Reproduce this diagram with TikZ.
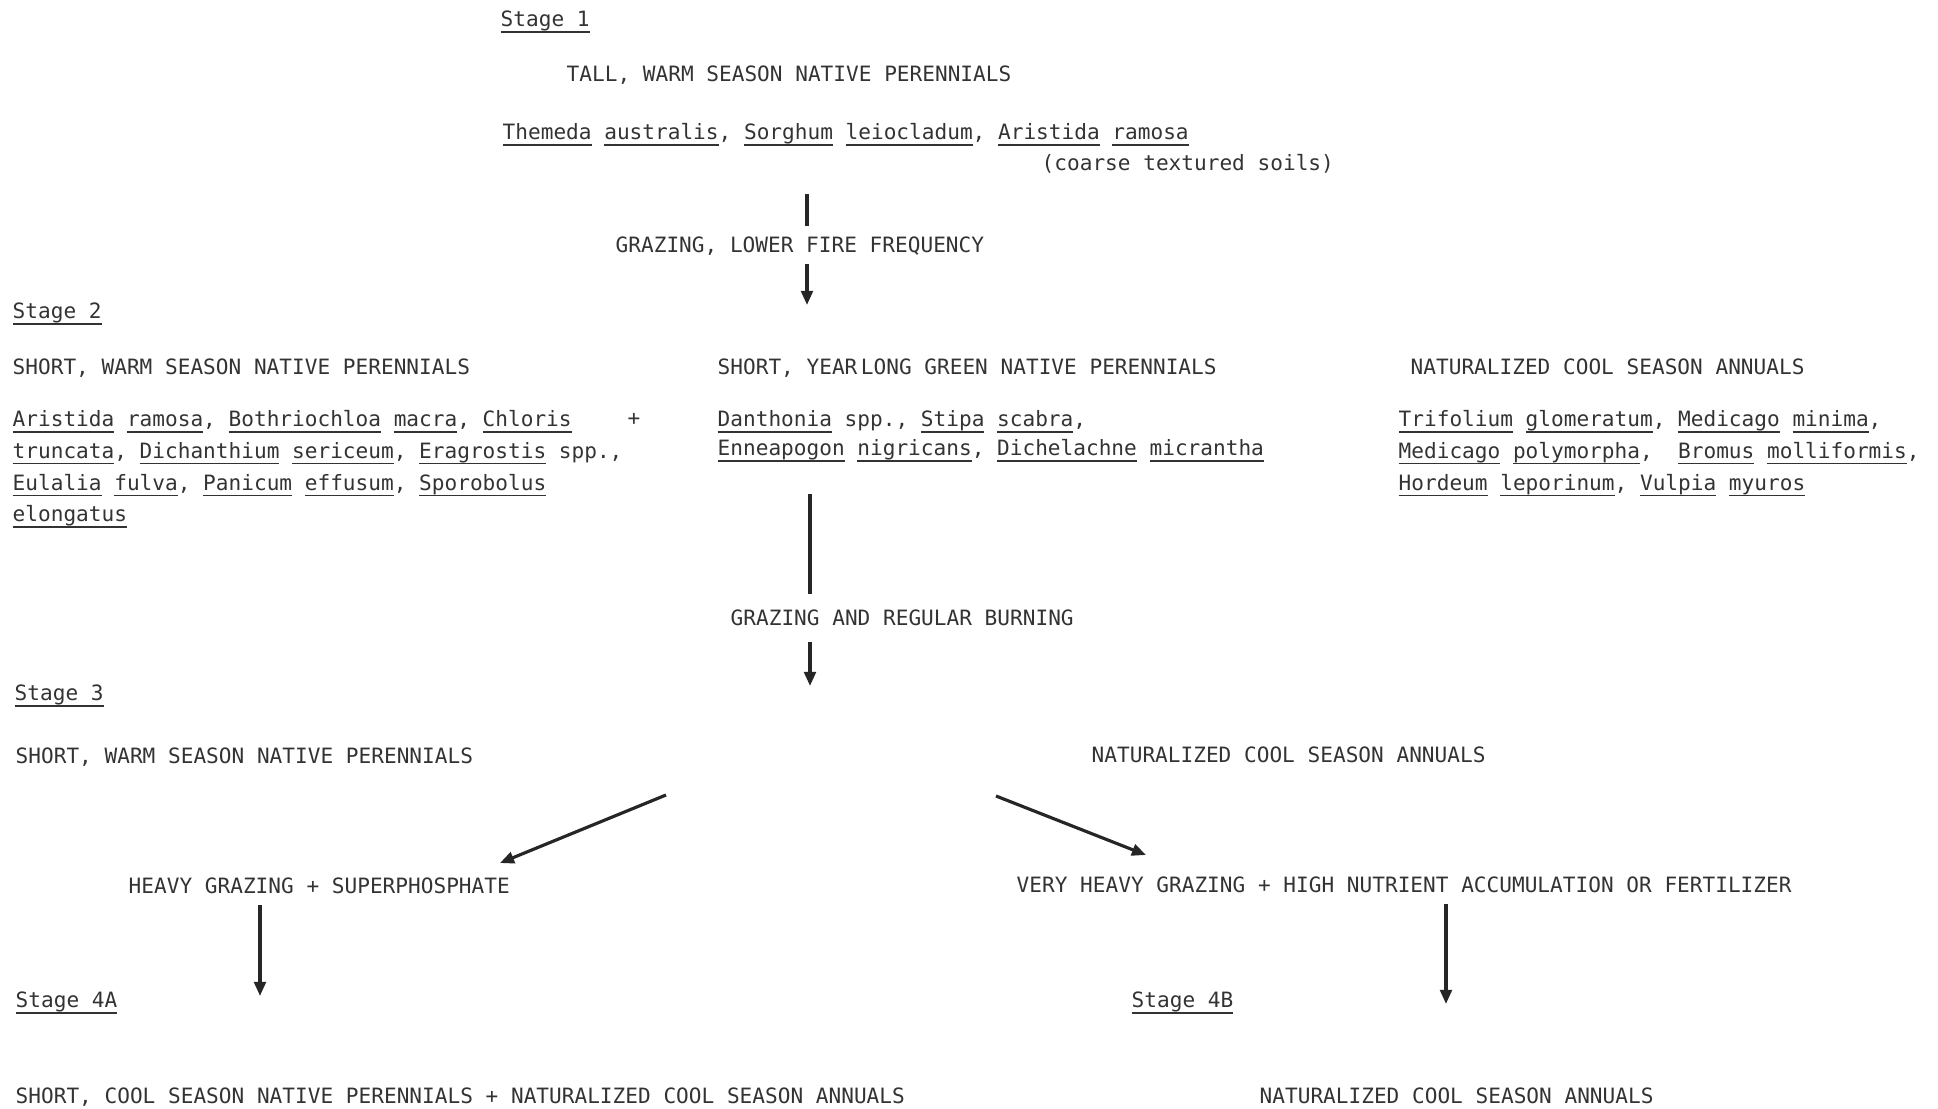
\documentclass[tikz,border=0pt]{standalone}
\usepackage{fontspec}
\setmonofont{DejaVu Sans Mono}
\usepackage{tikz}
\usetikzlibrary{positioning, arrows.meta}
\frenchspacing
% typewriter underline, same level under every word
\newcommand{\taxon}[1]{\setbox0=\hbox{#1}\rlap{\rule[-1.7pt]{\wd0}{0.4pt}}\box0\relax}

\begin{document}
\begin{tikzpicture}[
  x=0.01cm, y=-0.01cm,
  txt/.style={font=\ttfamily\fontsize{6}{9}\selectfont,text=black!80,inner sep=0pt,text height=4.4pt,text depth=0pt,anchor=west},
  species/.style={font=\ttfamily\fontsize{6}{9}\selectfont,text=black!80,inner sep=0pt,align=left,anchor=north west},
  cond/.style={txt,inner ysep=3pt},
  link/.style={line width=0.9pt,black!85},
  arrow/.style={link,-{Triangle[length=4pt,width=3.3pt]}},
]
\useasboundingbox (0,0) rectangle (1938,1109);

% stage 1
\node[txt] (st1) at (500,19) {\taxon{Stage 1}};
\node[txt] (tall) at (566,74) {TALL, WARM SEASON NATIVE PERENNIALS};
\node[txt] (themeda) at (502,132) {\taxon{Themeda} \taxon{australis}, \taxon{Sorghum} \taxon{leiocladum}, \taxon{Aristida} \taxon{ramosa}};
\node[txt] (coarse) at (1041,163) {(coarse textured soils)};

\coordinate (a1top) at (807,194);
\coordinate (a1end) at (807,305);
\node[cond] (g1) at (615,245) {GRAZING, LOWER FIRE FREQUENCY};
\draw[link] (a1top) -- (a1top |- g1.north);
\draw[arrow] (a1top |- g1.south) -- (a1end);

% stage 2
\node[txt] (st2) at (12,311) {\taxon{Stage 2}};
\node[txt] (warm2) at (12,367) {SHORT, WARM SEASON NATIVE PERENNIALS};
\node[txt] (green2) at (717,367) {SHORT, YEAR\kern1pt LONG GREEN NATIVE PERENNIALS};
\node[txt] (cool2) at (1410,367) {NATURALIZED COOL SEASON ANNUALS};

\node[species] (spwarm) at (12,410) {\taxon{Aristida} \taxon{ramosa}, \taxon{Bothriochloa} \taxon{macra}, \taxon{Chloris}\\
  \taxon{truncata}, \taxon{Dichanthium} \taxon{sericeum}, \taxon{Eragrostis} spp.,\\
  \taxon{Eulalia} \taxon{fulva}, \taxon{Panicum} \taxon{effusum}, \taxon{Sporobolus}\\
  \taxon{elongatus}};
\node[txt,anchor=center] (plus) at (634,418) {+};
\node[species,font=\ttfamily\fontsize{6}{8.2}\selectfont] (spgreen) at (717,410) {\taxon{Danthonia} spp., \taxon{Stipa} \taxon{scabra},\\
  \taxon{Enneapogon} \taxon{nigricans}, \taxon{Dichelachne} \taxon{micrantha}};
\node[species] (spcool) at (1398,410) {\taxon{Trifolium} \taxon{glomeratum}, \taxon{Medicago} \taxon{minima},\\
  \taxon{Medicago} \taxon{polymorpha},~ \taxon{Bromus} \taxon{molliformis},\\
  \taxon{Hordeum} \taxon{leporinum}, \taxon{Vulpia} \taxon{myuros}};

\coordinate (a2top) at (810,494);
\coordinate (a2end) at (810,686);
\node[cond,inner ysep=4.5pt] (g2) at (730,618) {GRAZING AND REGULAR BURNING};
\draw[link] (a2top) -- (a2top |- g2.north);
\draw[arrow] (a2top |- g2.south) -- (a2end);

% stage 3
\node[txt] (st3) at (14,693) {\taxon{Stage 3}};
\node[txt] (warm3) at (15,756) {SHORT, WARM SEASON NATIVE PERENNIALS};
\node[txt] (cool3) at (1091,755) {NATURALIZED COOL SEASON ANNUALS};

\coordinate (forkL) at (666,795);
\coordinate (forkR) at (996,796);
\coordinate (toHeavy) at (500,863);
\coordinate (toVery) at (1146,855);
\draw[arrow] (forkL) -- (toHeavy);
\draw[arrow] (forkR) -- (toVery);

\node[cond] (heavy) at (128,886) {HEAVY GRAZING + SUPERPHOSPHATE};
\node[cond] (veryheavy) at (1016,885) {VERY HEAVY GRAZING + HIGH NUTRIENT ACCUMULATION OR FERTILIZER};

\coordinate (a4a) at (260,996);
\coordinate (a4b) at (1446,1004);
\draw[arrow] (heavy.south -| a4a) -- (a4a);
\draw[arrow] (veryheavy.south -| a4b) -- (a4b);

% stage 4
\node[txt] (st4a) at (15,1000) {\taxon{Stage 4A}};
\node[txt] (st4b) at (1131,1000) {\taxon{Stage 4B}};
\node[txt] (end4a) at (15,1096) {SHORT, COOL SEASON NATIVE PERENNIALS + NATURALIZED COOL SEASON ANNUALS};
\node[txt] (end4b) at (1259,1096) {NATURALIZED COOL SEASON ANNUALS};

\end{tikzpicture}
\end{document}
